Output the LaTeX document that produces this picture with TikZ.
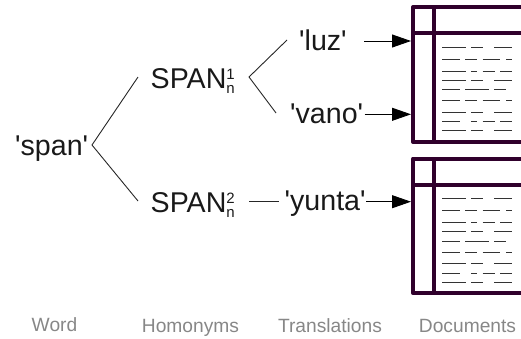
\documentclass[tikz,border=0pt]{standalone}
\usepackage{fontspec}
\setmainfont{Liberation Sans}
\usetikzlibrary{arrows.meta}
\newcommand{\qt}{\textquotesingle}
\newcommand{\spanlabel}[1]{SPAN\rlap{\raisebox{8.4pt}{\fontsize{15}{15}\selectfont #1}}\raisebox{-5.5pt}{\fontsize{15}{15}\selectfont n}}
\tikzset{
  x=1pt,y=-1pt,
  word/.style={anchor=base west,inner sep=0pt,font=\fontsize{28.6}{30}\selectfont,text=black!90},
  caption/.style={anchor=base,inner sep=0pt,font=\fontsize{19.2}{20}\selectfont,text=black!47},
  fork/.style={line width=0.9pt,draw=black!85},
  arrowline/.style={line width=0.9pt,draw=black,-{Triangle[length=19pt,width=13pt]}},
  frame/.style={line width=4pt,draw={rgb,255:red,48;green,0;blue,44},line join=round},
  textline/.style={line width=0.9pt,draw=black!80},
  pics/doc/.style={code={
    \draw[frame] (530,0) -- (0,0) -- (0,134.5) -- (530,134.5);
    \draw[frame] (21,0) -- (21,134.5);
    \draw[frame] (0,26) -- (530,26);
    \foreach \yy/\segs in {
      40.3/{29/52.7,58/70,81/98.7},
      52/{29/47,52.3/64.3,69.7/87.3,93/99},
      63.7/{29/52.7,58/64,69.7/81.7,87.3/99},
      72.7/{29/52.7,58/70,81/98.7},
      82.4/{29/47,52.3/76,81.3/93.3},
      93.4/{29/47,52.3/64.3,69.7/87.3,93/99},
      105/{29/52.7,58/70,81/98.7},
      114.4/{29/47,58/64,69.7/81.7,87.3/99},
      123.4/{29/52.7,58/70,81/98.7}}{
      \foreach \aa/\bb in \segs {\draw[textline] (\aa,\yy) -- (\bb,\yy);}
    }
  }}
}
\begin{document}
\begin{tikzpicture}
\useasboundingbox (0,0) rectangle (521,338);
\clip (0,0) rectangle (521,338);
\node[word] (span) at (15,155) {\qt span\qt};
\node[word] (spanA) at (150.5,88) {\spanlabel{1}};
\node[word] (spanB) at (150.5,212) {\spanlabel{2}};
\node[word] (luz) at (299,50) {\qt luz\qt};
\node[word] (vano) at (290,123.5) {\qt vano\qt};
\node[word] (yunta) at (284.5,210.5) {\qt yunta\qt};
\pic at (413,7.3) {doc};
\pic at (413,158.6) {doc};
\coordinate (forkS) at (92,145);
\coordinate (toA) at (138,77);
\coordinate (toB) at (138,201);
\coordinate (forkA) at (249,77);
\coordinate (toLuz) at (287,40);
\coordinate (toVano) at (276,113);
\coordinate (fromB) at (249,201);
\coordinate (toYunta) at (279,201);
\coordinate (fromLuz) at (364,41);
\coordinate (docLuz) at (411,41);
\coordinate (fromVano) at (364.7,114.3);
\coordinate (docVano) at (411,114.3);
\coordinate (fromYunta) at (366,201.7);
\coordinate (docYunta) at (411,201.7);
\draw[fork] (toA) -- (forkS) -- (toB);
\draw[fork] (toLuz) -- (forkA) -- (toVano);
\draw[fork] (fromB) -- (toYunta);
\draw[arrowline] (fromLuz) -- (docLuz);
\draw[arrowline] (fromVano) -- (docVano);
\draw[arrowline] (fromYunta) -- (docYunta);
\node[caption] (capW) at (54.5,331) {Word};
\node[caption] (capH) at (190.5,332) {Homonyms};
\node[caption] (capT) at (330,332) {Translations};
\node[caption] (capD) at (467.5,332) {Documents};
\end{tikzpicture}
\end{document}
